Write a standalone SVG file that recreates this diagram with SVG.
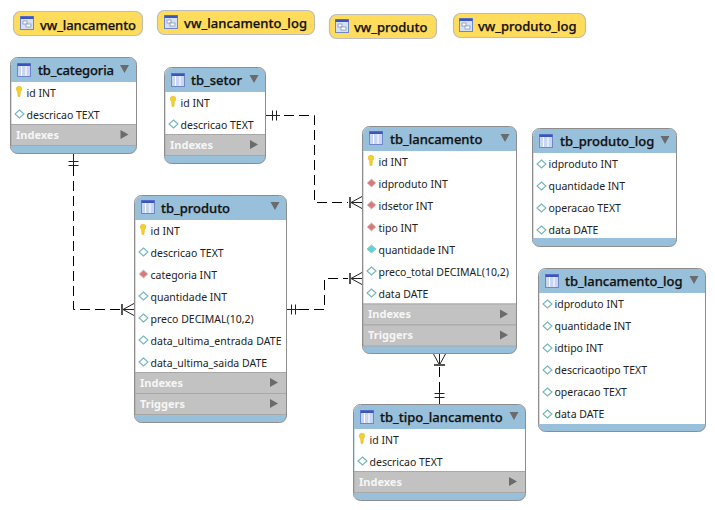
<svg xmlns="http://www.w3.org/2000/svg" width="715" height="510" viewBox="0 0 715 510">
<style>
text{font-family:"Noto Sans","DejaVu Sans",sans-serif}
.t{font-size:13px;font-weight:500;fill:#111;stroke:#111;stroke-width:.25}
.r{font-size:10.5px;fill:#222}
.b{font-size:11px;font-weight:700;fill:#f6f6f6}
.hd{fill:#98c0da}
.band{fill:#c2c2c2;stroke:#a8a8a8;stroke-width:1}
.edge{fill:none;stroke:#8d8d8d;stroke-width:1}
.view{fill:#ffdc5c;stroke:#bdbdbd;stroke-width:1.2}
.dash{fill:none;stroke:#000;stroke-width:1;stroke-dasharray:10 5}
.card{fill:none;stroke:#222;stroke-width:1}
.bar{fill:none;stroke:#555;stroke-width:2}
.ar{fill:#6b6b6b}
</style>
<defs>
<g id="tbl"><rect x="0.5" y="0.5" width="13" height="13" fill="#c9d6f2" stroke="#6f86c8"/><rect x="0.5" y="0.5" width="13" height="2.5" fill="#3a55c0"/><path d="M4.500 3v10M9 3v10" stroke="#fff" stroke-width="1"/></g>
<g id="vw"><rect x="0.5" y="0.5" width="13" height="13" fill="#d5e0f5" stroke="#6f86c8"/><rect x="0.5" y="0.5" width="13" height="2.5" fill="#3a55c0"/><rect x="3" y="5" width="4" height="3" fill="#fff" stroke="#7a8aa8" stroke-width=".7"/><rect x="6" y="8" width="5" height="3" fill="#fff" stroke="#7a8aa8" stroke-width=".7"/></g>
<path id="key" d="M-2.800 -3a2.800 2.800 0 0 1 5.600 0c0 1.400-.8 2-1.300 2.600L1 4.500H-1L-1.500 -.4C-2 -1-2.800 -1.600-2.800 -3Z" fill="#f5cf2a" stroke="#d4ab12" stroke-width=".4"/>
<path id="dw" d="M0 -4L4.500 0L0 4L-4.500 0Z" fill="#fff" stroke="#74b4bc" stroke-width="1.100"/>
<path id="dr" d="M0 -4L4.500 0L0 4L-4.500 0Z" fill="#d9787a" stroke="#d8cccc" stroke-width="1"/>
<path id="dc" d="M0 -4L4.500 0L0 4L-4.500 0Z" fill="#5fd6d6" stroke="#98c8c8" stroke-width="1"/>
<path id="tri" class="ar" d="M0 -4.500L8 0L0 4.500Z"/>
<path id="dn" class="ar" d="M-4.500 -4H4.500L0 4Z"/>
</defs>

<g id="connectors">
<path class="dash" d="M73.500 166V309.500H120"/>
<path class="card" d="M68.500 161.500H78.500M68.500 165.500H78.500M73.500 154V166"/>
<path class="card" d="M134 303.500L123 309.500L134 315.500M123 309.500H134"/><path class="bar" d="M122 304V315"/>
<path class="dash" d="M284 115.500H314.500V202.500H348"/>
<path class="card" d="M266 115.500H280M272.500 110.500V120.500M276.500 110.500V120.500"/>
<path class="card" d="M362 196.500L351 202.500L362 208.500M351 202.500H362"/><path class="bar" d="M350 197V208"/>
<path class="dash" d="M299 309.500H324.500V278.500H348"/>
<path class="card" d="M287 309.500H299M291.500 304.500V314.500M295.500 304.500V314.500"/>
<path class="card" d="M362 272.500L351 278.500L362 284.500M351 278.500H362"/><path class="bar" d="M350 273V284"/>
<path class="dash" d="M439.500 367V392"/>
<path class="card" d="M433.500 354L439.500 365L445.500 354M439.500 354V365"/><path class="bar" d="M434 365H445"/>
<path class="card" d="M434.500 393.500H444.500M434.500 397.500H444.500M439.500 392V404"/>
</g>

<g id="vw_lancamento"><rect class="view" x="13.500" y="11.500" width="129" height="24" rx="7"/><use href="#vw" x="20" y="16"/><text class="t" x="40" y="30" textLength="96">vw_lancamento</text></g>
<g id="vw_lancamento_log"><rect class="view" x="157.500" y="10.500" width="157" height="24" rx="7"/><use href="#vw" x="164" y="15"/><text class="t" x="184" y="28" textLength="123">vw_lancamento_log</text></g>
<g id="vw_produto"><rect class="view" x="329.500" y="14.500" width="107" height="24" rx="7"/><use href="#vw" x="335" y="19"/><text class="t" x="354" y="32">vw_produto</text></g>
<g id="vw_produto_log"><rect class="view" x="453.500" y="13.500" width="132" height="24" rx="7"/><use href="#vw" x="459" y="18"/><text class="t" x="478" y="31">vw_produto_log</text></g>

<g id="tb_categoria">
<rect class="hd" x="11" y="58" width="125.500" height="95.500" rx="7"/>
<rect x="11.500" y="82" width="124.500" height="42" fill="#fff"/>
<rect class="band" x="11" y="124.500" width="125.500" height="21"/>
<rect class="edge" x="10.500" y="57.500" width="126" height="96" rx="7"/>
<use href="#tbl" x="17" y="63"/><text class="t" x="38" y="75" textLength="76">tb_categoria</text><use href="#dn" x="124.500" y="69"/>
<use href="#key" x="19" y="92"/><text class="r" x="26.500" y="97">id INT</text>
<use href="#dw" x="19.500" y="114"/><text class="r" x="26.500" y="119">descricao TEXT</text>
<text class="b" x="16" y="139">Indexes</text><use href="#tri" x="120.500" y="134.500"/>
</g>

<g id="tb_setor">
<rect class="hd" x="165" y="68" width="100.500" height="95.500" rx="7"/>
<rect x="165.500" y="92" width="99.500" height="42" fill="#fff"/>
<rect class="band" x="165" y="134.500" width="100.500" height="21"/>
<rect class="edge" x="164.500" y="67.500" width="101" height="96" rx="7"/>
<use href="#tbl" x="171" y="73"/><text class="t" x="191" y="85">tb_setor</text><use href="#dn" x="254" y="79"/>
<use href="#key" x="173" y="102"/><text class="r" x="180.500" y="107">id INT</text>
<use href="#dw" x="173.500" y="124"/><text class="r" x="180.500" y="129">descricao TEXT</text>
<text class="b" x="170" y="149">Indexes</text><use href="#tri" x="250" y="144.500"/>
</g>

<g id="tb_produto">
<rect class="hd" x="135" y="196" width="151.500" height="226.500" rx="7"/>
<rect x="135.500" y="220" width="150.500" height="152" fill="#fff"/>
<rect class="band" x="135" y="372.500" width="151.500" height="21"/>
<rect class="band" x="135" y="393.500" width="151.500" height="21"/>
<rect class="edge" x="134.500" y="195.500" width="152" height="227" rx="7"/>
<use href="#tbl" x="141" y="200"/><text class="t" x="161" y="213">tb_produto</text><use href="#dn" x="275" y="206"/>
<use href="#key" x="143" y="230"/><text class="r" x="150.500" y="235">id INT</text>
<use href="#dw" x="143.500" y="252"/><text class="r" x="150.500" y="257">descricao TEXT</text>
<use href="#dr" x="143.500" y="274"/><text class="r" x="150.500" y="279">categoria INT</text>
<use href="#dw" x="143.500" y="296"/><text class="r" x="150.500" y="301">quantidade INT</text>
<use href="#dw" x="143.500" y="318"/><text class="r" x="150.500" y="323">preco DECIMAL(10,2)</text>
<use href="#dw" x="143.500" y="340"/><text class="r" x="150.500" y="345" textLength="131">data_ultima_entrada DATE</text>
<use href="#dw" x="143.500" y="362"/><text class="r" x="150.500" y="367">data_ultima_saida DATE</text>
<text class="b" x="140" y="387">Indexes</text><use href="#tri" x="270" y="382.500"/>
<text class="b" x="140" y="408">Triggers</text><use href="#tri" x="270" y="403.500"/>
</g>

<g id="tb_lancamento">
<rect class="hd" x="363" y="127" width="153.500" height="226.500" rx="7"/>
<rect x="363.500" y="151" width="152.500" height="152.500" fill="#fff"/>
<rect class="band" x="363" y="304" width="153.500" height="21"/>
<rect class="band" x="363" y="325" width="153.500" height="21"/>
<rect class="edge" x="362.500" y="126.500" width="154" height="227" rx="7"/>
<use href="#tbl" x="369" y="131"/><text class="t" x="390" y="144">tb_lancamento</text><use href="#dn" x="505" y="138"/>
<use href="#key" x="371" y="161"/><text class="r" x="378.500" y="166">id INT</text>
<use href="#dr" x="371.500" y="183"/><text class="r" x="378.500" y="188">idproduto INT</text>
<use href="#dr" x="371.500" y="205"/><text class="r" x="378.500" y="210">idsetor INT</text>
<use href="#dr" x="371.500" y="227"/><text class="r" x="378.500" y="232">tipo INT</text>
<use href="#dc" x="371.500" y="249"/><text class="r" x="378.500" y="254">quantidade INT</text>
<use href="#dw" x="371.500" y="271"/><text class="r" x="378.500" y="276">preco_total DECIMAL(10,2)</text>
<use href="#dw" x="371.500" y="293"/><text class="r" x="378.500" y="298">data DATE</text>
<text class="b" x="368" y="318">Indexes</text><use href="#tri" x="500" y="314"/>
<text class="b" x="368" y="339">Triggers</text><use href="#tri" x="500" y="335"/>
</g>

<g id="tb_tipo_lancamento">
<rect class="hd" x="354" y="405" width="171.500" height="95.500" rx="7"/>
<rect x="354.500" y="429" width="170.500" height="42" fill="#fff"/>
<rect class="band" x="354" y="471.500" width="171.500" height="21"/>
<rect class="edge" x="353.500" y="404.500" width="172" height="96" rx="7"/>
<use href="#tbl" x="360" y="410"/><text class="t" x="380" y="422">tb_tipo_lancamento</text><use href="#dn" x="514" y="416"/>
<use href="#key" x="362" y="439"/><text class="r" x="369.500" y="444">id INT</text>
<use href="#dw" x="362.500" y="461"/><text class="r" x="369.500" y="466">descricao TEXT</text>
<text class="b" x="359" y="486">Indexes</text><use href="#tri" x="509" y="481.500"/>
</g>

<g id="tb_produto_log">
<rect class="hd" x="533" y="129" width="143.500" height="117.500" rx="7"/>
<rect x="533.500" y="153" width="142.500" height="85" fill="#fff"/>
<rect class="edge" x="532.500" y="128.500" width="144" height="118" rx="7"/>
<use href="#tbl" x="539" y="134"/><text class="t" x="560" y="146">tb_produto_log</text><use href="#dn" x="665" y="140"/>
<use href="#dw" x="541.500" y="164"/><text class="r" x="548.500" y="168">idproduto INT</text>
<use href="#dw" x="541.500" y="186"/><text class="r" x="548.500" y="190">quantidade INT</text>
<use href="#dw" x="541.500" y="208"/><text class="r" x="548.500" y="212">operacao TEXT</text>
<use href="#dw" x="541.500" y="230"/><text class="r" x="548.500" y="234">data DATE</text>
</g>

<g id="tb_lancamento_log">
<rect class="hd" x="539" y="269" width="166.500" height="162.500" rx="7"/>
<rect x="539.500" y="293" width="165.500" height="131" fill="#fff"/>
<rect class="edge" x="538.500" y="268.500" width="167" height="163" rx="7"/>
<use href="#tbl" x="545" y="274"/><text class="t" x="565" y="286">tb_lancamento_log</text><use href="#dn" x="694" y="280"/>
<use href="#dw" x="547.500" y="304"/><text class="r" x="554.500" y="308">idproduto INT</text>
<use href="#dw" x="547.500" y="326"/><text class="r" x="554.500" y="330">quantidade INT</text>
<use href="#dw" x="547.500" y="348"/><text class="r" x="554.500" y="352">idtipo INT</text>
<use href="#dw" x="547.500" y="370"/><text class="r" x="554.500" y="374">descricaotipo TEXT</text>
<use href="#dw" x="547.500" y="392"/><text class="r" x="554.500" y="396">operacao TEXT</text>
<use href="#dw" x="547.500" y="414"/><text class="r" x="554.500" y="418">data DATE</text>
</g>
</svg>
